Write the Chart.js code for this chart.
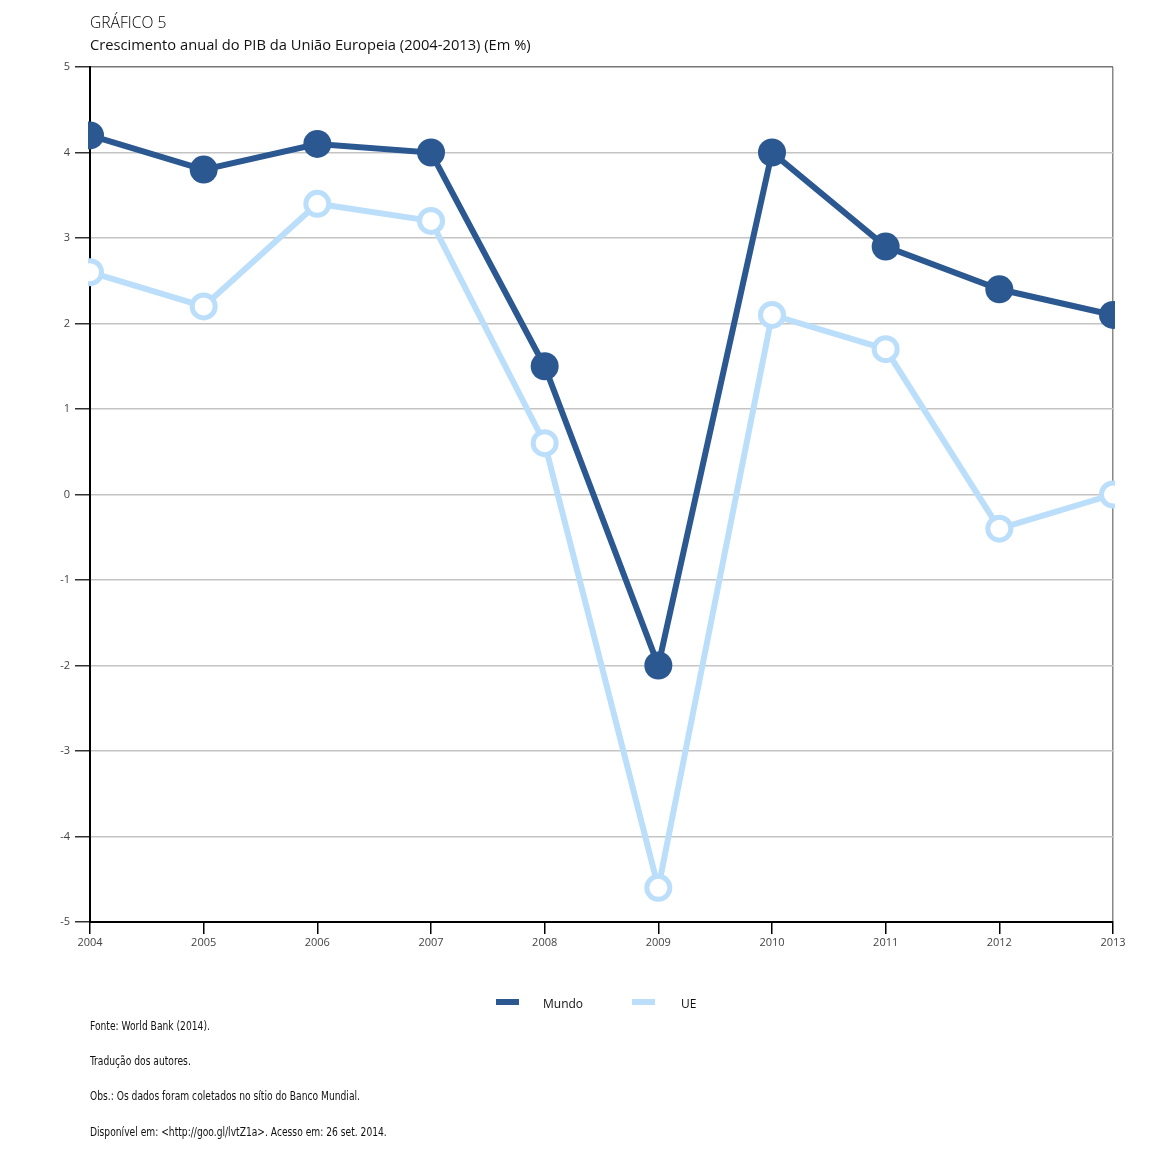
<!DOCTYPE html>
<html>
<head>
<meta charset="utf-8">
<script src="https://cdn.jsdelivr.net/npm/chart.js@4.4.1/dist/chart.umd.min.js"></script>
<style>
  body { margin: 0; background: #fff; }
  #wrap { position: relative; width: 1152px; height: 1152px; }
  #chart { position: absolute; left: 0; top: 0; }
  .t { position: absolute; left: 90px; white-space: nowrap; color: #111; transform-origin: 0 0; }
  #title { top: 10px; font: 300 17px "Open Sans", sans-serif; color: #000; transform: scaleX(0.92); }
  #subtitle { top: 34px; font: 500 14.7px "Open Sans", sans-serif; }
  .foot { font: 11.5px "DejaVu Sans Condensed", "DejaVu Sans", sans-serif; transform: scaleX(0.885); }
  .leg { position: absolute; top: 995px; font: 12px "Open Sans", sans-serif; color: #111; }
  .sw { position: absolute; height: 6px; width: 23px; }
</style>
</head>
<body>
<div id="wrap">
  <canvas id="chart" width="1152" height="1152"></canvas>
  <div id="title" class="t">GRÁFICO 5</div>
  <div id="subtitle" class="t">Crescimento anual do PIB da União Europeia (2004-2013) (Em %)</div>
  <div class="sw" style="left:496px; top:999px; background:#2b5891"></div>
  <div class="leg" style="left:543px">Mundo</div>
  <div class="sw" style="left:632px; top:999px; background:#bbdefb"></div>
  <div class="leg" style="left:681px">UE</div>
  <div class="t foot" style="top:1019px">Fonte: World Bank (2014).</div>
  <div class="t foot" style="top:1054px">Tradução dos autores.</div>
  <div class="t foot" style="top:1089px">Obs.: Os dados foram coletados no sítio do Banco Mundial.</div>
  <div class="t foot" style="top:1125px">Disponível em: &lt;http://goo.gl/lvtZ1a&gt;. Acesso em: 26 set. 2014.</div>
</div>
<script>
const years = ['2004', '2005', '2006', '2007', '2008', '2009', '2010', '2011', '2012', '2013'];
const mundo = [4.2, 3.8, 4.1, 4.0, 1.5, -2.0, 4.0, 2.9, 2.4, 2.1];
const ue = [2.6, 2.2, 3.4, 3.2, 0.6, -4.6, 2.1, 1.7, -0.4, 0.0];
const yTicks = [5, 4, 3, 2, 1, 0, -1, -2, -3, -4, -5];

const dark = '#2b5891';
const light = '#bbdefb';
const tickFont = { family: 'Open Sans', size: 11 };

new Chart(document.getElementById('chart'), {
    type: 'line',
    data: {
        labels: years,
        datasets: [
            {
                label: 'Mundo',
                data: mundo,
                borderColor: dark,
                backgroundColor: dark,
                borderWidth: 6,
                pointRadius: 14,
                pointHoverRadius: 14,
                pointBorderWidth: 0,
                pointBackgroundColor: dark,
                tension: 0,
                clip: 2
            },
            {
                label: 'UE',
                data: ue,
                borderColor: light,
                backgroundColor: '#fff',
                borderWidth: 6,
                pointRadius: 11.5,
                pointHoverRadius: 11.5,
                pointBorderWidth: 5,
                pointBorderColor: light,
                pointBackgroundColor: '#fff',
                tension: 0,
                clip: 2
            }
        ]
    },
    options: {
        responsive: false,
        animation: false,
        layout: { padding: { left: 50, right: 39, top: 67, bottom: 200 } },
        plugins: {
            legend: { display: false },
            tooltip: { enabled: false }
        },
        scales: {
            x: {
                type: 'category',
                offset: false,
                afterFit: s => { s.height = 30; },
                grid: {
                    drawOnChartArea: true,
                    color: c => c.index === years.length - 1 ? '#888' : 'rgba(0,0,0,0)',
                    tickColor: '#000',
                    tickLength: 12,
                    lineWidth: 1.5
                },
                border: { color: '#000', width: 2 },
                ticks: { color: '#444', font: tickFont, padding: 2, maxRotation: 0 }
            },
            y: {
                min: -5,
                max: 5,
                afterFit: s => { s.width = 40; },
                afterBuildTicks: s => { s.ticks = yTicks.map(v => ({ value: v })); },
                grid: {
                    color: c => c.tick && c.tick.value === 5 ? '#777' : '#c4c4c4',
                    tickColor: '#333',
                    tickLength: 15,
                    lineWidth: 1.5
                },
                border: { color: '#000', width: 2 },
                ticks: { color: '#444', font: tickFont, padding: 5 }
            }
        }
    }
});
</script>
</body>
</html>
